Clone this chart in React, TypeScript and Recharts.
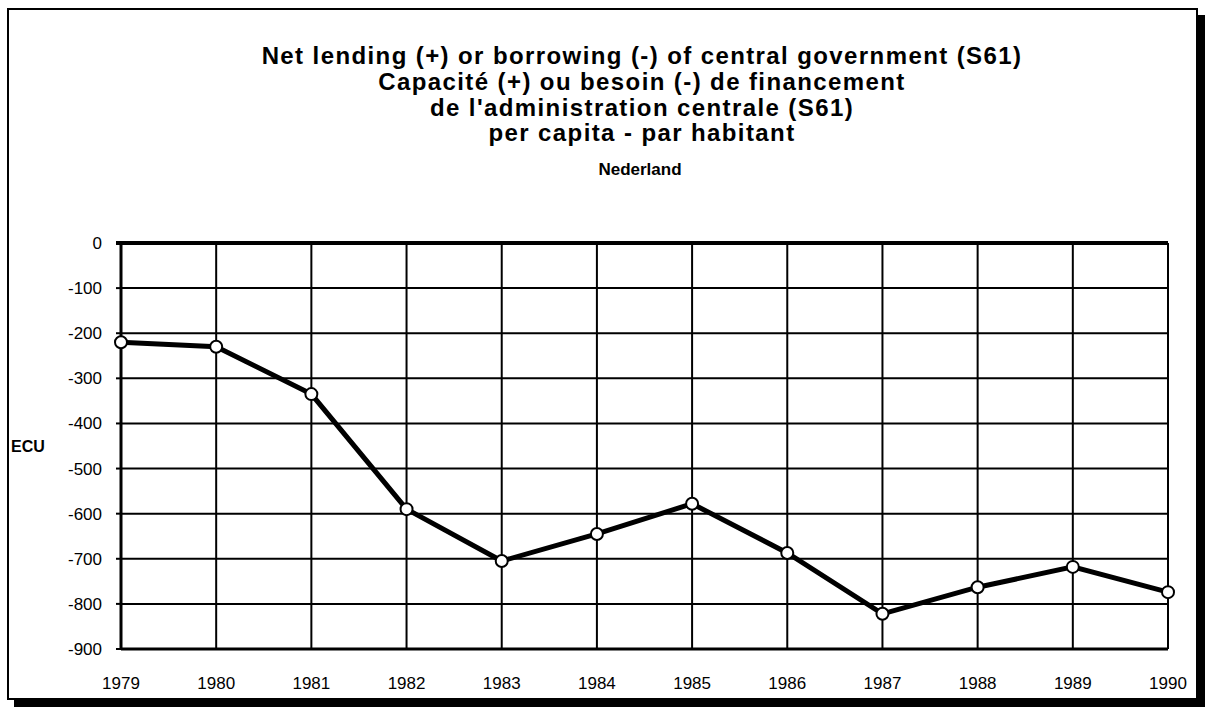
import { LineChart, Line, XAxis, YAxis, CartesianGrid } from 'recharts'

const years = ['1979', '1980', '1981', '1982', '1983', '1984', '1985', '1986', '1987', '1988', '1989', '1990']
const perCapita = [-220, -230, -335, -590, -705, -645, -578, -687, -822, -763, -718, -774]
const yTicks = [0, -100, -200, -300, -400, -500, -600, -700, -800, -900]

const titleLines = [
  'Net lending (+) or borrowing (-) of central government (S61)',
  'Capacité (+) ou besoin (-) de financement',
  "de l'administration centrale (S61)",
  'per capita - par habitant',
]

const chartData = years.map((year, i) => ({ year, value: perCapita[i] }))

const FONT = '"Liberation Sans", Arial, Helvetica, sans-serif'

export default function App() {
  return (
    <div style={{ position: 'absolute', left: 0, top: 0, width: 1215, height: 711, background: '#fff', fontFamily: FONT }}>
      {/* frame with drop shadow */}
      <div
        style={{
          position: 'absolute',
          left: 7,
          top: 8,
          width: 1191,
          height: 692,
          border: '2px solid #000',
          boxShadow: '7px 7px 0 #000',
          boxSizing: 'border-box',
        }}
      />
      <div style={{ position: 'absolute', left: 0, top: 43, width: 1284, textAlign: 'center' }}>
        {titleLines.map((line) => (
          <div key={line} style={{ fontSize: 24, fontWeight: 'bold', lineHeight: '25.8px', letterSpacing: 1.4, color: '#000' }}>
            {line}
          </div>
        ))}
      </div>
      <div style={{ position: 'absolute', left: 0, top: 160, width: 1280, textAlign: 'center', fontSize: 17, fontWeight: 'bold' }}>
        Nederland
      </div>
      <div style={{ position: 'absolute', left: 11, top: 438, fontSize: 16, fontWeight: 'bold' }}>ECU</div>

      <div style={{ position: 'absolute', left: 0, top: 0 }}>
        <LineChart width={1215} height={711} data={chartData} margin={{ top: 243, right: 47, bottom: 22, left: 0 }}>
          <CartesianGrid stroke="#000" strokeWidth={2} />
          <XAxis
            dataKey="year"
            axisLine={{ stroke: '#000', strokeWidth: 3 }}
            tickLine={false}
            tickSize={0}
            tickMargin={28}
            height={40}
            tick={{ fill: '#000', fontSize: 17, fontFamily: FONT }}
          />
          <YAxis
            type="number"
            domain={[-900, 0]}
            ticks={yTicks}
            width={121}
            axisLine={{ stroke: '#000', strokeWidth: 3 }}
            tickLine={{ stroke: '#000', strokeWidth: 2 }}
            tickSize={5}
            tickMargin={14}
            tick={{ fill: '#000', fontSize: 17, fontFamily: FONT }}
          />
          <Line
            type="linear"
            dataKey="value"
            stroke="#000"
            strokeWidth={5}
            dot={{ r: 6, fill: '#fff', stroke: '#000', strokeWidth: 2 }}
            isAnimationActive={false}
          />
        </LineChart>
      </div>
      {/* thicker zero line on top */}
      <div style={{ position: 'absolute', left: 116, top: 241, width: 1052, height: 4, background: '#000' }} />
    </div>
  )
}
